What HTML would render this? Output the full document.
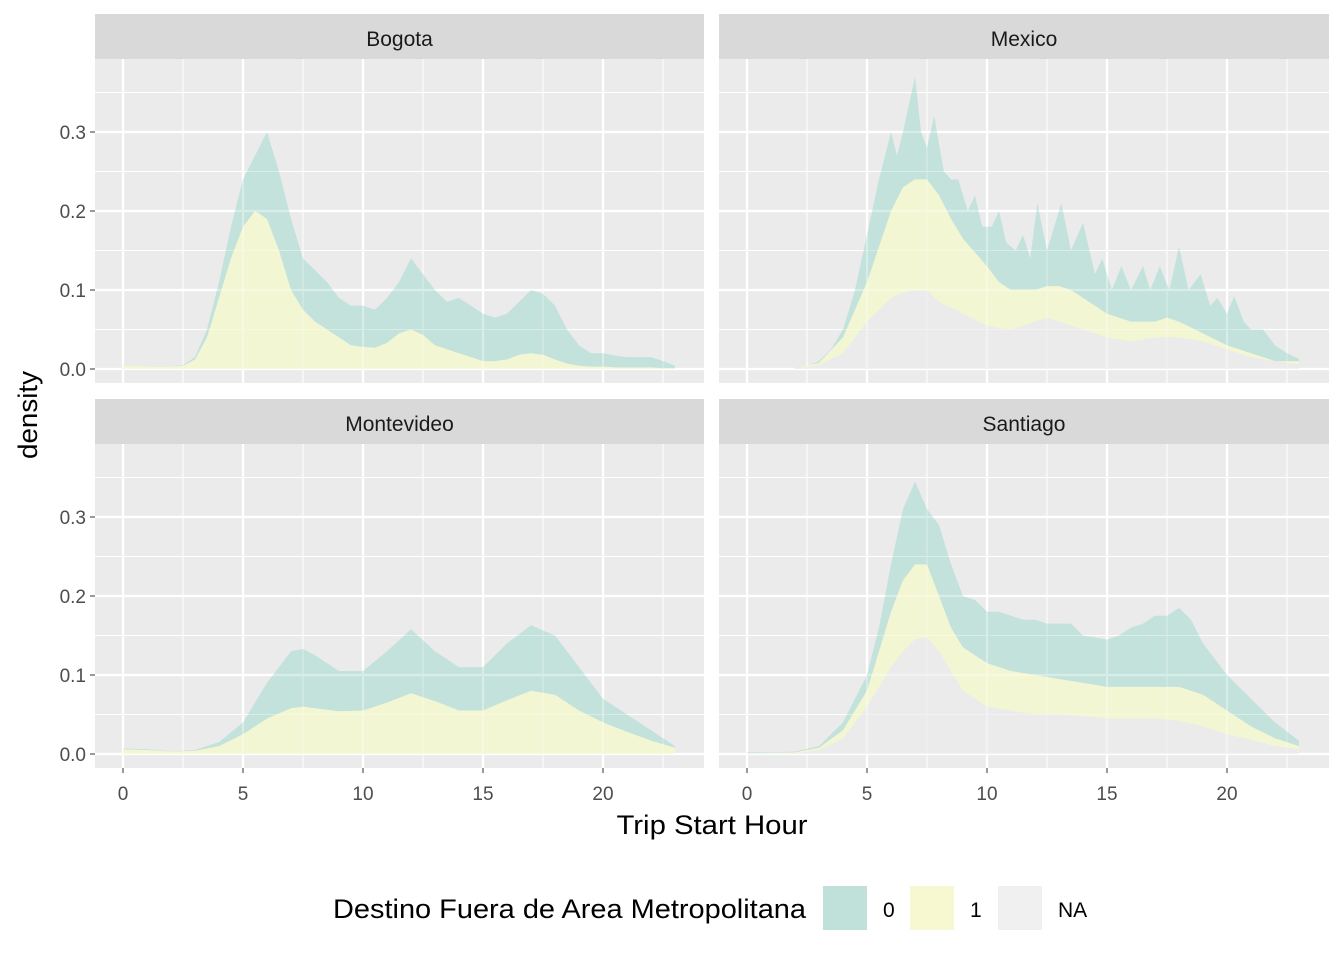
<!DOCTYPE html>
<html><head><meta charset="utf-8"><style>
body{margin:0;background:#fff;}
svg text{font-family:"Liberation Sans",Arial,sans-serif;}
</style></head><body>
<svg id="c" width="1344" height="960" xmlns="http://www.w3.org/2000/svg"></svg>
<script>
const cities = ["Bogota","Mexico","Montevideo","Santiago"];
const legendLabels = ["0","1","NA"];
const xTicks = [0,5,10,15,20];
const yTicks = [0,0.1,0.2,0.3];

const bogTotH=[0,0.5,1,1.5,2,2.5,3,3.5,4,4.5,5,5.5,6,6.5,7,7.5,8,8.5,9,9.5,10,10.5,11,11.5,12,12.5,13,13.5,14,14.5,15,15.5,16,16.5,17,17.5,18,18.5,19,19.5,20,20.5,21,21.5,22,22.5,23];
const bogTot=[0.005,0.004,0.003,0.003,0.003,0.005,0.015,0.05,0.11,0.18,0.24,0.27,0.30,0.25,0.19,0.14,0.125,0.11,0.09,0.08,0.08,0.075,0.09,0.11,0.14,0.12,0.10,0.085,0.09,0.08,0.07,0.065,0.07,0.085,0.10,0.095,0.08,0.05,0.03,0.02,0.02,0.017,0.015,0.015,0.015,0.01,0.004];
const bogYel=[0.005,0.004,0.003,0.003,0.003,0.004,0.012,0.04,0.09,0.14,0.18,0.20,0.19,0.15,0.10,0.075,0.06,0.05,0.04,0.03,0.028,0.027,0.033,0.045,0.05,0.043,0.03,0.025,0.02,0.015,0.01,0.01,0.012,0.018,0.02,0.018,0.012,0.007,0.004,0.003,0.003,0.002,0.002,0.002,0.002,0.001,0.001];
const bogNA=bogTotH.map(()=>0);

const mexTotH=[2,2.5,3,3.5,4,4.5,5,5.5,6,6.25,6.5,7,7.25,7.5,7.8,8.2,8.5,8.8,9.2,9.5,9.8,10.2,10.5,10.8,11.2,11.5,11.8,12.1,12.5,13.1,13.5,14,14.5,14.8,15.2,15.6,16,16.5,16.8,17.2,17.6,18,18.4,18.9,19.3,19.6,20,20.3,20.7,21,21.5,22,22.5,23];
const mexTot=[0.001,0.003,0.01,0.025,0.05,0.10,0.17,0.24,0.30,0.27,0.30,0.37,0.30,0.28,0.32,0.25,0.24,0.24,0.20,0.22,0.18,0.18,0.20,0.16,0.15,0.17,0.14,0.21,0.15,0.21,0.15,0.185,0.12,0.14,0.10,0.13,0.10,0.13,0.10,0.13,0.10,0.155,0.10,0.12,0.08,0.09,0.07,0.092,0.06,0.05,0.05,0.03,0.02,0.013];
const mexH=[2,3,4,5,6,6.5,7,7.5,8,8.5,9,10,10.5,11,11.5,12,12.5,13,13.5,14,15,16,17,17.5,18,19,20,21,22,23];
const mexYel=[0,0.008,0.04,0.11,0.20,0.23,0.24,0.24,0.22,0.19,0.165,0.13,0.11,0.10,0.10,0.10,0.105,0.105,0.10,0.09,0.07,0.06,0.06,0.065,0.06,0.045,0.03,0.02,0.01,0.01];
const mexNA=[0,0.005,0.02,0.06,0.09,0.097,0.10,0.10,0.085,0.078,0.07,0.055,0.052,0.05,0.055,0.06,0.065,0.06,0.055,0.05,0.04,0.035,0.04,0.04,0.04,0.035,0.025,0.015,0.01,0.006];

const monH=[0,1,2,3,4,5,6,7,7.5,8,9,10,11,12,13,14,15,16,17,18,19,20,21,22,23];
const monTot=[0.007,0.006,0.003,0.005,0.015,0.04,0.09,0.13,0.133,0.125,0.105,0.105,0.13,0.158,0.13,0.11,0.11,0.14,0.163,0.15,0.11,0.07,0.05,0.03,0.01];
const monYel=[0.006,0.005,0.003,0.004,0.01,0.025,0.045,0.058,0.06,0.058,0.054,0.055,0.065,0.077,0.067,0.055,0.055,0.068,0.08,0.075,0.055,0.04,0.028,0.017,0.008];
const monNA=monH.map(()=>0);

const staTotH=[0,1,2,3,4,5,5.5,6,6.5,7,7.5,8,8.5,9,9.5,10,10.5,11,11.5,12,12.5,13,13.5,14,15,15.5,16,16.5,17,17.5,18,18.5,19,19.5,20,21,22,23];
const staTot=[0.002,0.002,0.003,0.01,0.04,0.10,0.16,0.24,0.31,0.345,0.31,0.29,0.24,0.20,0.195,0.18,0.18,0.175,0.17,0.17,0.165,0.165,0.165,0.15,0.145,0.15,0.16,0.165,0.175,0.175,0.185,0.17,0.14,0.12,0.10,0.07,0.04,0.017];
const staH=[0,2,3,4,5,5.5,6,6.5,7,7.5,8,8.5,9,10,11,12,13,14,15,16,17,18,19,20,21,22,23];
const staYel=[0.001,0.002,0.008,0.03,0.08,0.13,0.18,0.22,0.24,0.24,0.20,0.16,0.135,0.115,0.105,0.10,0.095,0.09,0.085,0.085,0.085,0.085,0.075,0.055,0.035,0.02,0.01];
const staNA=[0.001,0.001,0.005,0.02,0.06,0.085,0.11,0.13,0.145,0.148,0.13,0.105,0.08,0.06,0.055,0.05,0.05,0.048,0.045,0.045,0.045,0.042,0.035,0.025,0.018,0.01,0.006];

const layers = {
 Bogota:[[bogTotH,bogTot],[bogTotH,bogYel],[bogTotH,bogNA]],
 Mexico:[[mexTotH,mexTot],[mexH,mexYel],[mexH,mexNA]],
 Montevideo:[[monH,monTot],[monH,monYel],[monH,monNA]],
 Santiago:[[staTotH,staTot],[staH,staYel],[staH,staNA]]
};
const fills=["#bfe1da","#f7f7d0","#ebebeb"];
const ns="http://www.w3.org/2000/svg";
const svg=document.getElementById('c');
function el(tag,attrs,parent){const e=document.createElementNS(ns,tag);for(const k in attrs)e.setAttribute(k,attrs[k]);(parent||svg).appendChild(e);return e;}

const panels=[{x0:95,x1:704,y0:59,y1:383,sy:14},{x0:719,x1:1329,y0:59,y1:383,sy:14},{x0:95,x1:704,y0:444,y1:768,sy:399},{x0:719,x1:1329,y0:444,y1:768,sy:399}];
cities.forEach((city,i)=>{
  const p=panels[i];
  const g=el('g',{});
  
  
  const xs=h=>p.x0+28+24*h;
  const ys=v=>p.y1-14-790*v;
  el('rect',{x:p.x0,y:p.y0,width:p.x1-p.x0,height:p.y1-p.y0,fill:'#ebebeb'},g);
  const strip=el('rect',{x:p.x0,y:p.sy,width:p.x1-p.x0,height:45,fill:'#d9d9d9'},g);
  
  
  const st=el('text',{x:(p.x0+p.x1)/2,y:p.sy+32,'text-anchor':'middle','font-size':'21',fill:'#1a1a1a'},g);
  st.textContent=city;
  
  
  const grid=el('g',{},g);
  for(let h=2.5;h<23;h+=5) el('line',{x1:xs(h),x2:xs(h),y1:p.y0,y2:p.y1,stroke:'#fff','stroke-width':1},grid);
  for(let v=0.05;v<0.4;v+=0.1) el('line',{x1:p.x0,x2:p.x1,y1:ys(v),y2:ys(v),stroke:'#fff','stroke-width':1},grid);
  xTicks.forEach(h=>el('line',{x1:xs(h),x2:xs(h),y1:p.y0,y2:p.y1,stroke:'#fff','stroke-width':2.2},grid));
  yTicks.forEach(v=>el('line',{x1:p.x0,x2:p.x1,y1:ys(v),y2:ys(v),stroke:'#fff','stroke-width':2.2},grid));
  layers[city].forEach((L,li)=>{
    const [hs,vs]=L;
    let d='M'+xs(hs[0])+','+ys(0);
    hs.forEach((h,k)=>{d+=' L'+xs(h).toFixed(1)+','+ys(vs[k]).toFixed(1);});
    d+=' L'+xs(hs[hs.length-1])+','+ys(0)+' Z';
    const path=el('path',{d:d,fill:fills[li],'fill-opacity':li==2?1:0.92},g);
    
    
  });
  // gridlines faintly visible through fills
  const g2=grid.cloneNode(true);
  g2.setAttribute('opacity','0.35');
  g.appendChild(g2);
  if(i%2==0){
    yTicks.forEach(v=>{
      el('line',{x1:p.x0-5,x2:p.x0,y1:ys(v),y2:ys(v),stroke:'#333','stroke-width':1},g);
      const t=el('text',{x:p.x0-9,y:ys(v)+7,'text-anchor':'end','font-size':'19',fill:'#4d4d4d'},g);
      t.textContent=v.toFixed(1);
      
      
    });
  }
  if(i>=2){
    xTicks.forEach(h=>{
      el('line',{x1:xs(h),x2:xs(h),y1:p.y1,y2:p.y1+5,stroke:'#333','stroke-width':1},g);
      const t=el('text',{x:xs(h),y:p.y1+32,'text-anchor':'middle','font-size':'19',fill:'#4d4d4d'},g);
      t.textContent=h;
      
      
    });
  }
});
const xt=el('text',{x:712,y:834,'text-anchor':'middle','font-size':'27',fill:'#000',textLength:'191',lengthAdjust:'spacingAndGlyphs'});
xt.textContent='Trip Start Hour';


const yt=el('text',{x:37,y:415,'text-anchor':'middle','font-size':'27',fill:'#000',transform:'rotate(-90 37 415)',textLength:'88',lengthAdjust:'spacingAndGlyphs'});
yt.textContent='density';


const lg=el('g',{});


const lt=el('text',{x:333,y:918,'font-size':'27',fill:'#000',textLength:'473',lengthAdjust:'spacingAndGlyphs'},lg);
lt.textContent='Destino Fuera de Area Metropolitana';


const keyX=[823,910,998];
const keyFill=["#bfe1da","#f7f7d0","#f0f0f0"];
legendLabels.forEach((lab,k)=>{
  const r=el('rect',{x:keyX[k],y:886,width:44,height:44,fill:keyFill[k]},lg);
  
  
  const t=el('text',{x:keyX[k]+60,y:917,'font-size':'21',fill:'#000'},lg);
  t.textContent=lab;
  
  
});
</script>
</body></html>
